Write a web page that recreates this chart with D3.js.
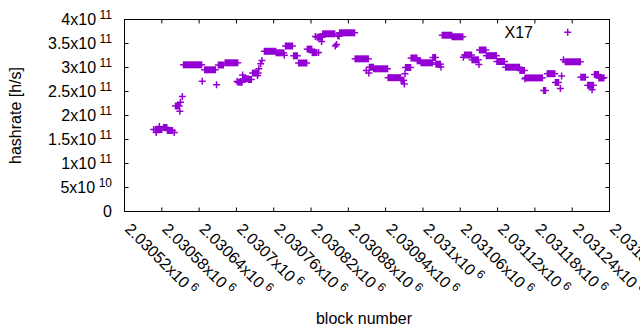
<!DOCTYPE html>
<html>
<head>
<meta charset="utf-8">
<script src="https://cdn.jsdelivr.net/npm/d3@7"></script>
<style>
  body { margin: 0; background: #fff; }
  svg { display: block; font-family: "Liberation Sans", Arial, sans-serif; }
</style>
</head>
<body>
<svg width="640" height="330"></svg>
<script>
// runs of consecutive blocks that keep the same hashrate estimate
const runStart = [2030570, 2030583, 2030589, 2030602, 2030615, 2030649, 2030671, 2030682, 2030703, 2030711,
    2030720, 2030726, 2030745, 2030764, 2030779, 2030792, 2030800, 2030814, 2030822, 2030830,
    2030839, 2030866, 2030891, 2030914, 2030921, 2030944, 2030965, 2030972, 2030981, 2030991,
    2030997, 2031016, 2031021, 2031031, 2031047, 2031067, 2031079, 2031091, 2031102, 2031119,
    2031133, 2031156, 2031165, 2031194, 2031200, 2031213, 2031229, 2031254, 2031265, 2031276,
    2031283];
const runEnd = [2030580, 2030588, 2030597, 2030608, 2030644, 2030666, 2030679, 2030702, 2030709, 2030719,
    2030724, 2030735, 2030763, 2030776, 2030790, 2030798, 2030813, 2030821, 2030829, 2030838,
    2030858, 2030890, 2030912, 2030920, 2030943, 2030964, 2030969, 2030980, 2030990, 2030996,
    2031015, 2031020, 2031028, 2031046, 2031064, 2031078, 2031089, 2031101, 2031118, 2031131,
    2031155, 2031163, 2031192, 2031197, 2031212, 2031218, 2031253, 2031261, 2031274, 2031282,
    2031289];
const runRate = [1.708e11, 1.750e11, 1.688e11, 2.198e11, 3.056e11, 2.952e11, 3.052e11, 3.098e11, 2.694e11, 2.765e11,
    2.750e11, 2.885e11, 3.338e11, 3.306e11, 3.448e11, 3.244e11, 3.094e11, 3.383e11, 3.310e11, 3.631e11,
    3.702e11, 3.723e11, 3.181e11, 3.006e11, 2.973e11, 2.788e11, 2.733e11, 3.000e11, 3.198e11, 3.140e11,
    3.098e11, 3.208e11, 3.069e11, 3.673e11, 3.640e11, 3.260e11, 3.160e11, 3.365e11, 3.246e11, 3.125e11,
    3.006e11, 2.938e11, 2.783e11, 2.521e11, 2.871e11, 2.688e11, 3.119e11, 2.798e11, 2.629e11, 2.854e11,
    2.781e11];

// single blocks off the runs
const pointBlock = [2030567, 2030571, 2030576, 2030600, 2030609, 2030610, 2030613, 2030645, 2030668, 2030701,
    2030710, 2030734, 2030736, 2030739, 2030741, 2030777, 2030827, 2030832, 2030837, 2030859,
    2030861, 2030863, 2030865, 2030909, 2030913, 2030970, 2030971, 2031029, 2031065, 2031090,
    2031164, 2031221, 2031223, 2031226, 2031272, 2031291];
const pointRate = [1.708e11, 1.646e11, 1.771e11, 1.646e11, 2.090e11, 2.277e11, 2.396e11, 2.715e11, 2.640e11, 2.708e11,
    2.844e11, 2.833e11, 2.973e11, 3.077e11, 3.146e11, 3.256e11, 3.646e11, 3.313e11, 3.542e11, 3.448e11,
    3.479e11, 3.667e11, 3.652e11, 2.938e11, 2.885e11, 2.656e11, 2.869e11, 3.010e11, 3.215e11, 3.063e11,
    2.765e11, 2.563e11, 2.823e11, 3.160e11, 2.535e11, 2.785e11];

const xTicks = [2030520, 2030580, 2030640, 2030700, 2030760, 2030820, 2030880,
    2030940, 2031000, 2031060, 2031120, 2031180, 2031240, 2031300];
const yTicks = [0, 5e10, 1e11, 1.5e11, 2e11, 2.5e11, 3e11, 3.5e11, 4e11];
const seriesName = "X17";

const plot = { left: 124.5, right: 609.5, top: 19.5, bottom: 211.5 };
const color = "#9400d3";
const arm = 3.5;

const svg = d3.select("svg");
const x = d3.scaleLinear().domain(d3.extent(xTicks)).range([plot.left, plot.right]);
const y = d3.scaleLinear().domain(d3.extent(yTicks)).range([plot.bottom, plot.top]);

drawTicks();
drawPoints();
drawLabels();
drawLegend();

function drawTicks() {
    const sides = [
        [d3.axisBottom(x).tickValues(xTicks), `translate(0,${plot.bottom})`],
        [d3.axisTop(x).tickValues(xTicks), `translate(0,${plot.top})`],
        [d3.axisLeft(y).tickValues(yTicks), `translate(${plot.left},0)`],
        [d3.axisRight(y).tickValues(yTicks), `translate(${plot.right},0)`]
    ];
    sides.forEach(([axis, t]) => {
        const g = svg.append("g").attr("transform", t)
            .call(axis.offset(0).tickSize(-4).tickSizeOuter(0).tickFormat(""));
        g.select(".domain").remove();
        g.selectAll("line").attr("stroke", "#000");
    });

    svg.append("rect")
        .attr("x", plot.left).attr("y", plot.top)
        .attr("width", plot.right - plot.left).attr("height", plot.bottom - plot.top)
        .attr("fill", "none").attr("stroke", "#000");
}

function plus(cx, cy) {
    return `M${cx - arm},${cy}H${cx + arm}M${cx},${cy - arm}V${cy + arm}`;
}

function drawPoints() {
    const g = svg.append("g");
    const runs = runStart.map((s, i) => ({ s: s, e: runEnd[i], r: runRate[i] }));

    // a run is a row of "+" marks packed so tight they fuse into a block
    g.selectAll(".run-bar").data(runs).enter().append("rect")
        .attr("class", "run-bar")
        .attr("x", d => x(d.s) - 0.75)
        .attr("y", d => y(d.r) - arm)
        .attr("width", d => x(d.e) - x(d.s) + 1.5)
        .attr("height", arm * 2)
        .attr("fill", color);
    g.selectAll(".run-arm").data(runs).enter().append("path")
        .attr("class", "run-arm")
        .attr("d", d => `M${x(d.s) - arm},${y(d.r)}H${x(d.e) + arm}`)
        .attr("stroke", color).attr("stroke-width", 1.5);

    g.selectAll(".pt").data(pointBlock).enter().append("path")
        .attr("class", "pt")
        .attr("d", (b, i) => plus(x(b), y(pointRate[i])))
        .attr("fill", "none").attr("stroke", color).attr("stroke-width", 1.5);
}

function sci(v) {
    if (v === 0) return ["0", null];
    const e = Math.floor(Math.log10(v));
    return [String(+(v / Math.pow(10, e)).toPrecision(8)), String(e)];
}

function writeSci(text, v) {
    const [m, e] = sci(v);
    text.append("tspan").text(e === null ? m : m + "x10");
    if (e !== null) {
        text.append("tspan").attr("dx", 3.5).attr("dy", -6).attr("font-size", 12).text(e);
    }
}

function drawLabels() {
    svg.selectAll(".ylab").data(yTicks).enter().append("text")
        .attr("class", "ylab")
        .attr("x", 112).attr("y", d => y(d) + 5)
        .attr("text-anchor", "end").attr("font-size", 16)
        .each(function (d) { writeSci(d3.select(this), d); });

    svg.selectAll(".xlab").data(xTicks).enter().append("text")
        .attr("class", "xlab")
        .attr("transform", d => `translate(${x(d) - 0.5},230) rotate(45)`)
        .attr("font-size", 16)
        .each(function (d) { writeSci(d3.select(this), d); });

    svg.append("text")
        .attr("transform", "translate(20.5,115.5) rotate(-90)")
        .attr("text-anchor", "middle").attr("font-size", 16)
        .text("hashrate [h/s]");

    svg.append("text")
        .attr("x", 364).attr("y", 324)
        .attr("text-anchor", "middle").attr("font-size", 16)
        .text("block number");
}

function drawLegend() {
    svg.append("text")
        .attr("x", 533).attr("y", 37.5)
        .attr("text-anchor", "end").attr("font-size", 16)
        .text(seriesName);
    svg.append("path")
        .attr("d", plus(567.7, 32.3))
        .attr("fill", "none").attr("stroke", color).attr("stroke-width", 1.5);
}
</script>
</body>
</html>
